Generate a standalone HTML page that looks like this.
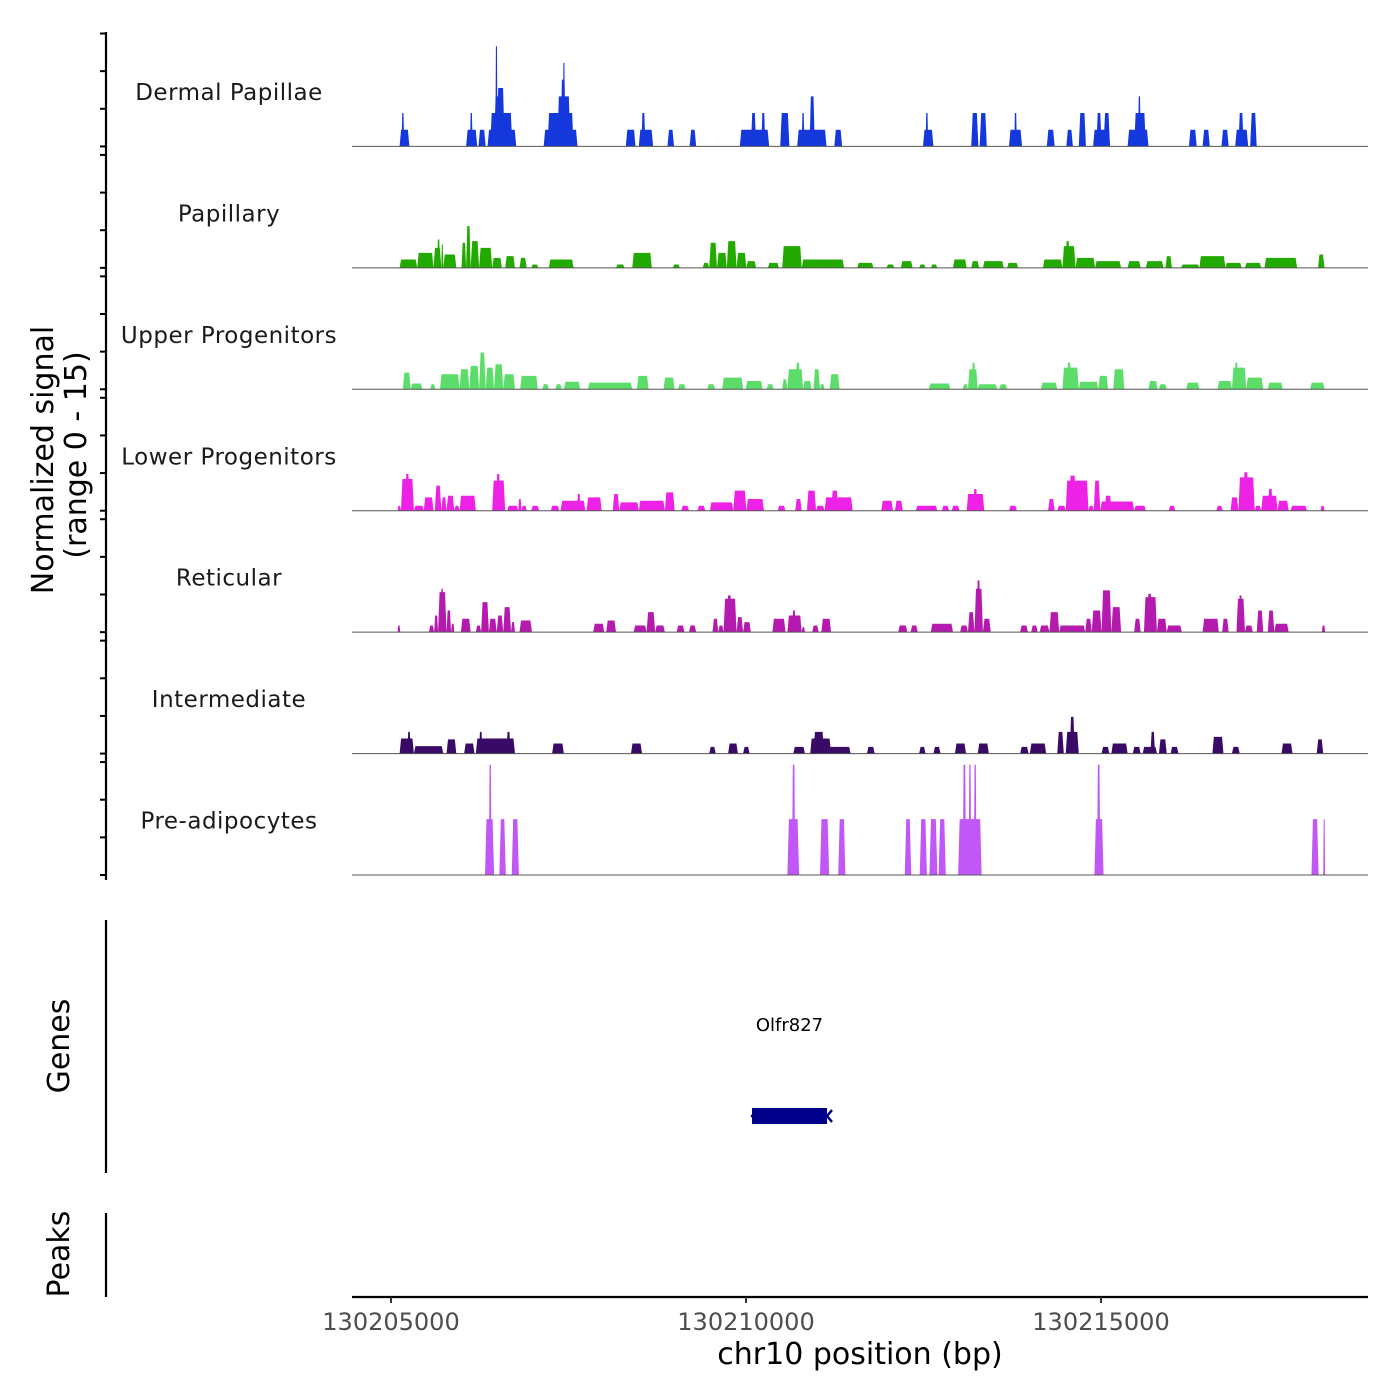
<!DOCTYPE html>
<html><head><meta charset="utf-8">
<style>
html,body{margin:0;padding:0;background:#fff;}
svg{display:block;font-family:"DejaVu Sans","Liberation Sans",sans-serif;}
</style></head>
<body>
<svg id="chart" width="1400" height="1400" viewBox="0 0 1400 1400" xmlns="http://www.w3.org/2000/svg">
<rect x="0" y="0" width="1400" height="1400" fill="#fff"/>
<g id="tracks"></g>
<g id="axes"></g>
</svg>
<script>
// ---------- data (bp offsets from 130205000, value in signal units) ----------
const regionStart = 130205000;
const xTickValues = [130205000, 130210000, 130215000];
const trackNames = ["Dermal Papillae","Papillary","Upper Progenitors","Lower Progenitors","Reticular","Intermediate","Pre-adipocytes"];
const trackColors = ["#1538dd","#22aa00","#5cdd6a","#ee22e6","#b51aae","#3a0b66","#c157f5"];

const dermalPapillae = [[121,259,1],[149,185,2],[1058,1214,1],[1232,1333,1],[1113,1149,2],[1360,1764,1],[1397,1709,2],[1452,1562,3],[1470,1500,6],[1489,1600,3.5],[2150,2627,1],[2205,2572,2],[2343,2526,3],[2389,2462,4],[2420,2450,5],[3307,3444,1],[3490,3692,1],[3527,3582,2],[3894,3986,1],[4206,4298,1],[4913,5326,1],[5069,5143,2],[5216,5271,2],[5482,5611,2],[5721,6134,1],[5785,5822,2],[5895,5969,3],[6244,6354,1],[7493,7640,1],[7529,7566,2],[8172,8273,2],[8291,8392,2],[8704,8888,1],[8778,8815,2],[9237,9347,1],[9512,9604,1],[9687,9788,2],[9889,10127,1],[9935,10008,2],[10036,10127,2],[10375,10669,1],[10467,10632,2],[10522,10559,3],[11238,11348,1],[11431,11532,1],[11697,11798,1],[11890,12073,1],[11936,12009,2],[12101,12193,2]];
const papillary = [[121,369,.5],[369,599,.9],[599,709,1.2],[650,690,1.7],[709,736,1.4],[736,920,.8],[993,1058,1.5],[1058,1122,2.5],[1122,1241,1.6],[1241,1425,1.2],[1425,1562,.6],[1608,1746,.7],[1810,1911,.6],[1976,2076,.2],[2223,2572,.5],[3169,3288,.2],[3398,3674,.9],[3968,4069,.2],[4390,4482,.3],[4482,4592,1.5],[4592,4730,.9],[4730,4867,1.6],[4867,5005,.9],[5005,5143,.4],[5308,5464,.3],[5510,5785,1.3],[5785,6382,.5],[6566,6795,.3],[6979,7089,.2],[7181,7346,.4],[7438,7529,.2],[7603,7695,.2],[7915,8108,.5],[8172,8283,.4],[8337,8631,.4],[8677,8833,.3],[9182,9457,.5],[9457,9641,1.3],[9500,9560,1.6],[9641,9916,.6],[9916,10283,.4],[10375,10559,.4],[10632,10880,.4],[10907,10999,.7],[11128,11385,.2],[11385,11752,.7],[11752,11982,.3],[12028,12257,.3],[12303,12762,.6],[13056,13148,.8]];
const upperProgenitors = [[167,277,1],[277,442,.35],[553,626,.3],[690,966,.9],[966,1103,1.2],[1103,1241,1.4],[1241,1333,2.2],[1333,1452,1.3],[1452,1581,1.5],[1581,1746,.9],[1819,2067,.8],[2132,2223,.3],[2315,2407,.3],[2435,2664,.45],[2774,3398,.4],[3463,3628,.8],[3839,3995,.7],[4041,4151,.3],[4454,4564,.3],[4665,4959,.7],[4996,5234,.5],[5289,5390,.3],[5510,5583,.6],[5583,5804,1.2],[5700,5760,1.6],[5804,5923,.5],[5950,6042,1.2],[6042,6107,.3],[6180,6318,.9],[7575,7878,.35],[8053,8126,.3],[8126,8264,1.2],[8180,8230,1.6],[8264,8539,.3],[8567,8677,.3],[9154,9384,.4],[9457,9687,1.3],[9520,9580,1.6],[9687,9962,.45],[9962,10100,.8],[10173,10329,1.2],[10669,10797,.5],[10816,10926,.3],[11201,11385,.4],[11642,11844,.5],[11844,12046,1.3],[11880,11930,1.6],[12046,12285,.7],[12349,12560,.4],[12946,13148,.4]];
const lowerProgenitors = [[94,140,.3],[140,323,1.9],[200,260,2.2],[323,461,.3],[461,599,.8],[617,709,1.5],[709,782,.8],[782,892,.9],[892,966,.3],[966,1195,.9],[1425,1608,1.8],[1480,1540,2.2],[1636,1792,.3],[1792,1838,.7],[1838,1911,.3],[1976,2086,.3],[2251,2370,.3],[2389,2737,.6],[2620,2670,1],[2755,2967,.8],[3123,3215,1],[3215,3490,.5],[3490,3857,.6],[3857,3995,1.1],[4087,4197,.3],[4316,4427,.3],[4491,4821,.5],[4821,5005,1.2],[5005,5253,.7],[5446,5556,.3],[5693,5785,.7],[5858,5987,1.2],[5987,6107,.3],[6107,6501,.8],[6200,6300,1.2],[6905,7070,.6],[7098,7208,.6],[7392,7695,.3],[7759,7860,.3],[7897,8007,.3],[8108,8356,1],[8200,8260,1.3],[8704,8815,.3],[9255,9347,.7],[9384,9503,.3],[9503,9824,1.8],[9550,9650,2.1],[9824,9898,.3],[9898,9990,1.8],[9990,10467,.55],[10050,10150,.9],[10467,10632,.3],[10953,11045,.3],[11624,11715,.3],[11825,11936,.8],[11936,12165,2],[12000,12080,2.3],[12165,12257,.3],[12257,12487,.9],[12350,12420,1.3],[12487,12643,.6],[12670,12900,.3],[13092,13148,.3]];
const reticular = [[94,130,.4],[534,608,.4],[608,663,1],[663,782,2.4],[700,740,2.6],[782,846,1.3],[846,892,.5],[984,1122,.8],[1195,1269,.4],[1269,1379,1.8],[1379,1489,.8],[1489,1581,1],[1581,1691,1.5],[1691,1746,.6],[1810,1985,.7],[2848,3004,.5],[3031,3169,.7],[3417,3600,.4],[3600,3720,1.2],[3720,3857,.4],[4023,4133,.4],[4197,4298,.4],[4528,4610,.8],[4610,4684,.4],[4684,4867,2],[4730,4800,2.2],[4867,4959,.9],[4959,5069,.6],[5372,5556,.8],[5583,5785,1],[5650,5700,1.3],[5785,5831,.3],[5932,6024,.4],[6061,6198,.8],[7144,7272,.4],[7318,7419,.4],[7603,7915,.5],[8016,8126,.4],[8126,8218,1.2],[8218,8337,2.6],[8250,8300,3.1],[8337,8447,.8],[8861,8971,.4],[9017,9108,.4],[9136,9273,.4],[9273,9411,1.2],[9411,9778,.4],[9778,9870,.8],[9870,10008,1.3],[10008,10146,2.5],[10146,10283,1.5],[10467,10559,.8],[10605,10788,2.1],[10650,10720,2.3],[10788,10926,.8],[10926,11138,.4],[11431,11660,.8],[11706,11798,.8],[11908,12028,2],[11940,11990,2.2],[12028,12138,.4],[12193,12285,1.3],[12349,12441,1.3],[12441,12643,.5],[13111,13157,.4]];
const intermediate = [[121,323,.9],[231,277,1.3],[323,736,.45],[782,920,.85],[1030,1177,.6],[1195,1746,.9],[1241,1287,1.3],[1627,1682,1.3],[2269,2435,.6],[3380,3536,.6],[4482,4574,.4],[4748,4886,.6],[4959,5051,.4],[5666,5831,.4],[5904,6474,.4],[5904,6198,.9],[5950,6100,1.3],[6703,6813,.4],[7438,7529,.4],[7640,7740,.4],[7943,8099,.6],[8264,8420,.6],[8861,8980,.4],[8998,9228,.6],[9384,9476,1.3],[9503,9687,1.3],[9560,9630,2.2],[10008,10118,.4],[10146,10375,.6],[10448,10559,.4],[10587,10788,.4],[10697,10761,1.3],[10816,10926,.85],[10981,11091,.4],[11569,11725,1],[11844,11954,.4],[12542,12698,.6],[13038,13130,.85]];
const preAdipocytes = [[1324,1452,3.35],[1379,1416,6.6],[1526,1617,3.35],[1700,1801,3.35],[5583,5748,3.35],[5648,5693,6.6],[6042,6171,3.35],[6299,6400,3.35],[7236,7327,3.35],[7447,7548,3.35],[7584,7695,3.35],[7713,7814,3.35],[7988,8319,3.35],[8053,8099,6.6],[8136,8172,6.6],[8209,8246,6.6],[9907,10036,3.35],[9944,9990,6.6],[12964,13065,3.35],[13130,13157,3.35]];
const trackData = [dermalPapillae,papillary,upperProgenitors,lowerProgenitors,reticular,intermediate,preAdipocytes];

const geneName = "Olfr827";
const geneStart = 130210085;
const geneEnd = 130211141;

// ---------- scales ----------
const NS = "http://www.w3.org/2000/svg";
const pxPerBp = 355/5000;
function xScale(bp){ return 391 + (bp - regionStart) * pxPerBp; }
function xOff(off){ return xScale(regionStart + off); }
const trackTop = 25, trackH = 121.43, unitPx = 16.7;
function baseY(i){ return trackTop + (i+1)*trackH; }
function yScale(i, v){ return baseY(i) - v*unitPx; }

function mk(tag, attrs, parent){
  const e = document.createElementNS(NS, tag);
  for (const k in attrs) e.setAttribute(k, attrs[k]);
  parent.appendChild(e); return e;
}
const tracksG = document.getElementById('tracks');
const axesG = document.getElementById('axes');

trackData.forEach((segs, i) => {
  const g = mk('g', {}, tracksG);
  
  
  const by = baseY(i);
  segs.forEach(s => {
    const x0 = xOff(s[0]), x1 = xOff(s[1]), yt = yScale(i, s[2]);
    const w = x1 - x0, ins = Math.min(1.5, w/4);
    const p = mk('polygon', {points: `${x0},${by} ${x0+ins},${yt} ${x1-ins},${yt} ${x1},${by}`, fill: trackColors[i]}, g);
    
    
  });
  const bl = mk('line', {x1:352, x2:1368, y1:by, y2:by, stroke:'#555', 'stroke-width':1}, g);
  
  
  const t = mk('text', {x:229, y: by - trackH + 75, 'text-anchor':'middle', 'font-size':23, fill:'#1a1a1a', 'letter-spacing':'0.5'}, g);
  t.textContent = trackNames[i];
  
  
  [0, 0.31, 0.62, 0.93].forEach(f => {
    const ty = by - f*trackH;
    const tk = mk('line', {x1:100, x2:106, y1:ty, y2:ty, stroke:'#000', 'stroke-width':2}, axesG);
    
    
  });
});

function vline(x, y1, y2, name){
  const l = mk('line', {x1:x, x2:x, y1:y1, y2:y2, stroke:'#000', 'stroke-width':2.2}, axesG);
  
  
}
vline(106, 32, 880, 'signal-y-axis');
vline(106, 920, 1173, 'genes-y-axis');
vline(106, 1213, 1297, 'peaks-y-axis');

function rtext(x, y, str, name, size){
  const t = mk('text', {x:x, y:y, 'text-anchor':'middle', 'font-size':size, fill:'#000', transform:`rotate(-90 ${x} ${y})`}, axesG);
  t.textContent = str;
  
  
}
rtext(53, 460, 'Normalized signal', 'y-axis-title', 30);
rtext(86, 455, '(range 0 - 15)', 'y-axis-subtitle', 30);
rtext(69, 1046, 'Genes', 'genes-title', 30);
rtext(69, 1254, 'Peaks', 'peaks-title', 30);

const gg = mk('g', {}, tracksG);


const gx0 = xScale(geneStart), gx1 = xScale(geneEnd);
mk('rect', {x:gx0, y:1108, width:gx1-gx0, height:16, fill:'#00008b'}, gg);
mk('path', {d:`M${gx0+4},1111 L${gx0},1116 L${gx0+4},1121 M${gx1+5},1110 L${gx1},1116 L${gx1+5},1122`, stroke:'#00008b', 'stroke-width':2.5, fill:'none'}, gg);
const gl = mk('text', {x:(gx0+gx1)/2, y:1031, 'text-anchor':'middle', 'font-size':18, fill:'#000'}, gg);
gl.textContent = geneName;



const xa = mk('line', {x1:352, x2:1368, y1:1297, y2:1297, stroke:'#000', 'stroke-width':2.2}, axesG);


xTickValues.forEach(v => {
  const x = xScale(v);
  const tk = mk('line', {x1:x, x2:x, y1:1297, y2:1303, stroke:'#333', 'stroke-width':2}, axesG);
  
  
  const tl = mk('text', {x:x, y:1330, 'text-anchor':'middle', 'font-size':24, fill:'#4d4d4d'}, axesG);
  tl.textContent = String(v);
  
  
});
const xt = mk('text', {x:860, y:1364, 'text-anchor':'middle', 'font-size':30, fill:'#000'}, axesG);
xt.textContent = 'chr10 position (bp)';


</script>
</body></html>
